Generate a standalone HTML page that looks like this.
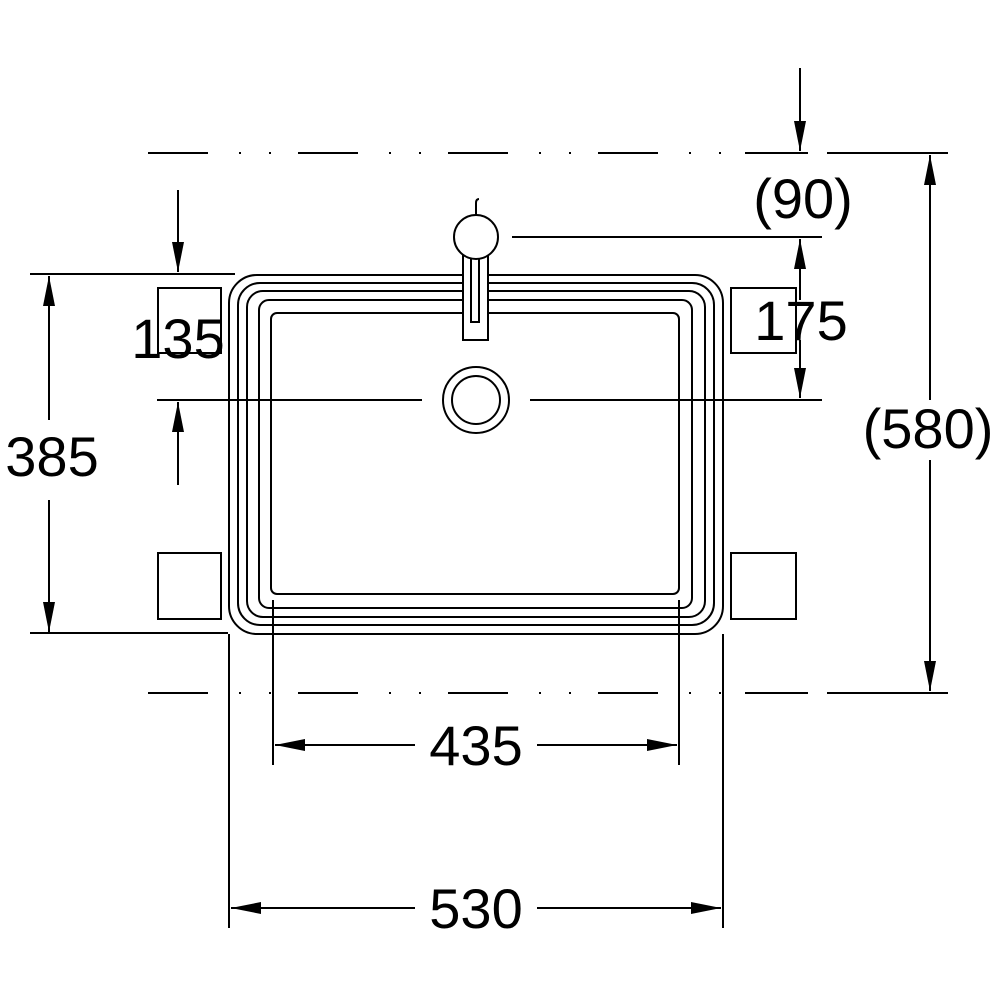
<!DOCTYPE html>
<html><head><style>body{margin:0;background:#fff}svg{display:block}text{font-family:"Liberation Sans",sans-serif;font-size:56px;fill:#000}</style></head><body>
<svg width="1000" height="1000" viewBox="0 0 1000 1000" xmlns="http://www.w3.org/2000/svg">
<defs>
<marker id="b" viewBox="0 0 30 12" refX="30" refY="6" markerWidth="30" markerHeight="12" markerUnits="userSpaceOnUse" orient="auto"><path d="M0,0 L30,6 L0,12z" fill="#000"/></marker></defs>
<g fill="none" stroke="#000" stroke-width="2">
<path d="M148,153 H735" stroke-dasharray="60 31 2 28 2 27"/>
<path d="M745,153 H808 M827,153 H948"/>
<path d="M148,693 H735" stroke-dasharray="60 31 2 28 2 27"/>
<path d="M745,693 H808 M827,693 H948"/>
<rect x="229" y="275" width="494" height="359" rx="28"/>
<rect x="238" y="283" width="476" height="342" rx="22"/>
<rect x="247" y="291" width="458" height="326" rx="16"/>
<rect x="259" y="300" width="433" height="308" rx="10"/>
<rect x="271" y="313" width="408" height="281" rx="6"/>
<rect x="158" y="288" width="63" height="65"/>
<rect x="158" y="553" width="63" height="66"/>
<rect x="731" y="288" width="65" height="65"/>
<rect x="731" y="553" width="65" height="66"/>
<circle cx="476" cy="400" r="33"/><circle cx="476" cy="400" r="24"/>
<rect x="463" y="255" width="25" height="85" fill="#fff"/>
<rect x="471" y="258" width="8" height="64"/>
<circle cx="476" cy="237" r="22" fill="#fff"/>
<path d="M476,215 V203 q0,-4 3,-4"/>
<path d="M30,274 H235 M30,633 H228 M157,400 H422 M530,400 H822 M512,237 H822"/>
<path d="M273,600 V765 M679,600 V765 M229,634 V928 M723,634 V928"/>
<path d="M49,420 V276" marker-end="url(#b)"/><path d="M49,500 V632" marker-end="url(#b)"/>
<path d="M178,190 V272" marker-end="url(#b)"/>
<path d="M178,485 V402" marker-end="url(#b)"/>
<path d="M800,68 V151" marker-end="url(#b)"/>
<path d="M800,300 V239" marker-end="url(#b)"/><path d="M800,340 V398" marker-end="url(#b)"/>
<path d="M930,400 V155" marker-end="url(#b)"/><path d="M930,460 V691" marker-end="url(#b)"/>
<path d="M415,745 H275" marker-end="url(#b)"/><path d="M537,745 H677" marker-end="url(#b)"/>
<path d="M415,908 H231" marker-end="url(#b)"/><path d="M537,908 H721" marker-end="url(#b)"/>
</g>
<g fill="#fff"><rect x="0" y="425" width="100" height="60"/><rect x="860" y="400" width="140" height="60"/></g>
<text x="52" y="476" text-anchor="middle">385</text>
<text x="178" y="358" text-anchor="middle">135</text>
<text x="801" y="340" text-anchor="middle">175</text>
<text x="803" y="218" text-anchor="middle">(90)</text>
<text x="928" y="448" text-anchor="middle">(580)</text>
<text x="476" y="765" text-anchor="middle">435</text>
<text x="476" y="928" text-anchor="middle">530</text>
</svg></body></html>
